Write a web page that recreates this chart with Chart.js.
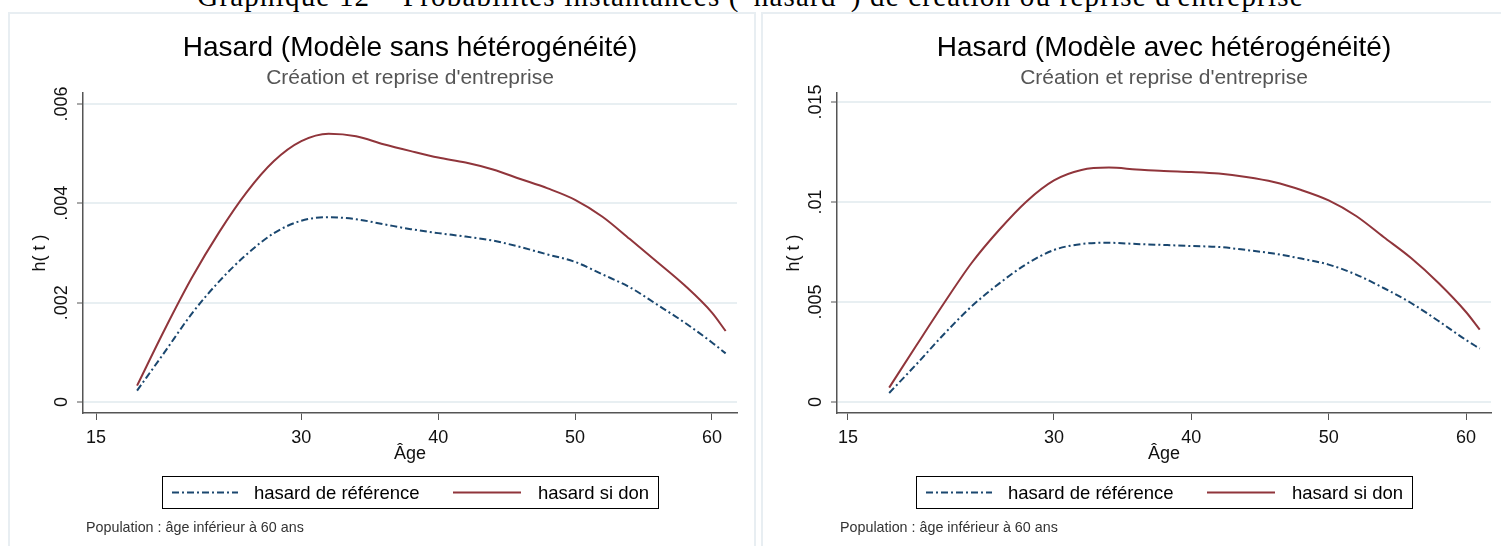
<!DOCTYPE html>
<html>
<head>
<meta charset="utf-8">
<script src="https://cdn.jsdelivr.net/npm/chart.js@4.4.1/dist/chart.umd.min.js"></script>
<style>
  html, body { margin: 0; padding: 0; background: #fff; }
  body { width: 1501px; height: 546px; position: relative; overflow: hidden; }
  #header {
    position: absolute; left: 0; top: -17px; width: 1501px;
    text-align: center; white-space: nowrap;
    font: 29px "Liberation Serif", serif; letter-spacing: 1.2px; line-height: 26px; color: #000;
  }
  .panel {
    position: absolute; top: 12px; height: 560px;
    border: 2px solid #e8eef2; box-sizing: border-box; background: #fff;
  }
  canvas { position: absolute; top: 0; }
</style>
</head>
<body>
<div id="header">Graphique 12 – Probabilités instantanées (“hasard”) de création ou reprise d'entreprise</div>
<div class="panel" style="left:8px; width:748px;"></div>
<div class="panel" style="left:761px; width:760px;"></div>
<canvas id="left" width="755" height="546" style="left:0;"></canvas>
<canvas id="right" width="744" height="546" style="left:757px;"></canvas>

<script>
// Age grid shared by all curves
const ages = [18, 20, 22, 24, 26, 28, 30, 32, 34, 36, 38, 40, 42, 44, 46, 48, 50, 52, 54, 56, 58, 60, 61];

// Model without heterogeneity
const refNoHet = [0.00023, 0.00100, 0.00178, 0.00243, 0.00297, 0.00340, 0.00365, 0.00372, 0.00368, 0.00358, 0.00348, 0.00340,
                  0.00333, 0.00325, 0.00312, 0.00297, 0.00282, 0.00257, 0.00231, 0.00196, 0.00160, 0.00120, 0.00098];
const donNoHet = [0.00033, 0.00145, 0.00250, 0.00342, 0.00422, 0.00485, 0.00525, 0.00540, 0.00535, 0.00519, 0.00505, 0.00492,
                  0.00482, 0.00468, 0.00449, 0.00430, 0.00407, 0.00373, 0.00328, 0.00282, 0.00235, 0.00180, 0.00143];

// Model with heterogeneity
const refHet = [0.00045, 0.00190, 0.00340, 0.00478, 0.00592, 0.00690, 0.00760, 0.00790, 0.00796, 0.00790, 0.00785, 0.00780,
                0.00775, 0.00760, 0.00742, 0.00717, 0.00687, 0.00637, 0.00570, 0.00495, 0.00405, 0.00310, 0.00267];
const donHet = [0.00072, 0.00285, 0.00495, 0.00695, 0.00860, 0.01003, 0.01108, 0.01160, 0.01172, 0.01163, 0.01155, 0.01150,
                0.01142, 0.01125, 0.01100, 0.01060, 0.01008, 0.00930, 0.00825, 0.00720, 0.00595, 0.00450, 0.00362];

// Axis ticks
const xTicks = [15, 30, 40, 50, 60];
const yTicksNoHet = [0, 0.002, 0.004, 0.006];
const yLabelsNoHet = ['0', '.002', '.004', '.006'];
const yTicksHet = [0, 0.005, 0.01, 0.015];
const yLabelsHet = ['0', '.005', '.01', '.015'];

const NAVY = '#1a476f';
const MAROON = '#90353b';
const GRID = '#e8eff2';
const AXIS = '#555';
const FONT = '"Liberation Sans", Arial, sans-serif';

// Titles, tick labels, legend and note drawn around the plot area
const panelText = {
  id: 'panelText',
  afterDraw(chart, args, o) {
    const { ctx, chartArea: a, scales: { x, y } } = chart;
    const cx = (a.left + a.right) / 2;
    ctx.save();
    ctx.textAlign = 'center';
    ctx.textBaseline = 'alphabetic';

    ctx.fillStyle = '#000';
    ctx.font = '28px ' + FONT;
    ctx.fillText(o.title, cx, 56);

    ctx.fillStyle = '#555';
    ctx.font = '21px ' + FONT;
    ctx.fillText(o.subtitle, cx, 84);

    ctx.fillStyle = '#111';
    ctx.font = '18px ' + FONT;
    o.xTicks.forEach(v => ctx.fillText(String(v), x.getPixelForValue(v), 443));
    ctx.fillText(o.xTitle, cx, 459);

    o.yTicks.forEach((v, i) => {
      ctx.save();
      ctx.translate(a.left - 16, y.getPixelForValue(v));
      ctx.rotate(-Math.PI / 2);
      ctx.fillText(o.yLabels[i], 0, 0);
      ctx.restore();
    });
    ctx.save();
    ctx.translate(a.left - 38, (a.top + a.bottom) / 2);
    ctx.rotate(-Math.PI / 2);
    ctx.fillText(o.yTitle, 0, 0);
    ctx.restore();

    // legend box
    const lx = cx - 248, ly = 476, lw = 496, lh = 32;
    ctx.strokeStyle = '#000';
    ctx.lineWidth = 1;
    ctx.strokeRect(Math.round(lx) + 0.5, ly + 0.5, lw, lh);
    const midY = ly + lh / 2 + 0.5;
    const items = [
      { ds: chart.data.datasets[0], x0: cx - 238, x1: cx - 172, tx: cx - 156 },
      { ds: chart.data.datasets[1], x0: cx + 43, x1: cx + 111, tx: cx + 128 }
    ];
    items.forEach(it => {
      ctx.save();
      ctx.strokeStyle = it.ds.borderColor;
      ctx.lineWidth = it.ds.borderWidth;
      ctx.setLineDash(it.ds.borderDash || []);
      ctx.beginPath();
      ctx.moveTo(it.x0, midY);
      ctx.lineTo(it.x1, midY);
      ctx.stroke();
      ctx.restore();
      ctx.fillStyle = '#000';
      ctx.textAlign = 'left';
      ctx.font = '18.5px ' + FONT;
      ctx.fillText(it.ds.label, it.tx, ly + 23);
    });

    ctx.fillStyle = '#333';
    ctx.font = '14.3px ' + FONT;
    ctx.textAlign = 'left';
    ctx.fillText(o.note, a.left + 3, 532);
    ctx.restore();
  }
};

function toPoints(vals) {
  return ages.map((a, i) => ({ x: a, y: vals[i] }));
}

function makeChart(id, cfg) {
  return new Chart(document.getElementById(id), {
    type: 'line',
    data: {
      datasets: [
        {
          label: 'hasard de référence',
          data: toPoints(cfg.ref),
          borderColor: NAVY, borderWidth: 2, borderDash: [7, 3, 2, 3],
          pointRadius: 0, fill: false, cubicInterpolationMode: 'monotone'
        },
        {
          label: 'hasard si don',
          data: toPoints(cfg.don),
          borderColor: MAROON, borderWidth: 2,
          pointRadius: 0, fill: false, cubicInterpolationMode: 'monotone'
        }
      ]
    },
    options: {
      responsive: false,
      animation: false,
      layout: { padding: cfg.padding },
      plugins: {
        legend: { display: false },
        tooltip: { enabled: false },
        panelText: {
          title: cfg.title,
          subtitle: 'Création et reprise d\'entreprise',
          xTitle: 'Âge',
          yTitle: 'h( t )',
          xTicks: xTicks,
          yTicks: cfg.yTicks,
          yLabels: cfg.yLabels,
          note: 'Population : âge inférieur à 60 ans'
        }
      },
      scales: {
        x: {
          type: 'linear',
          min: cfg.xMin, max: cfg.xMax,
          afterBuildTicks: s => { s.ticks = xTicks.map(v => ({ value: v })); },
          ticks: { display: false },
          grid: { drawOnChartArea: false, drawTicks: true, tickLength: 7, tickColor: AXIS, tickWidth: 1 },
          border: { display: true, color: AXIS, width: 1.5 }
        },
        y: {
          type: 'linear',
          min: cfg.yMin, max: cfg.yMax,
          afterBuildTicks: s => { s.ticks = cfg.yTicks.map(v => ({ value: v })); },
          ticks: { display: false },
          grid: { color: GRID, lineWidth: 2, drawTicks: true, tickLength: 6, tickColor: AXIS, tickWidth: 1 },
          border: { display: true, color: AXIS, width: 1.5 }
        }
      }
    },
    plugins: [panelText]
  });
}

makeChart('left', {
  title: 'Hasard (Modèle sans hétérogénéité)',
  ref: refNoHet, don: donNoHet,
  yTicks: yTicksNoHet, yLabels: yLabelsNoHet,
  xMin: 14.05, xMax: 61.83,
  yMin: -0.00022, yMax: 0.00622,
  padding: { left: 77, top: 93, right: 18, bottom: 126 }
});

makeChart('right', {
  title: 'Hasard (Modèle avec hétérogénéité)',
  ref: refHet, don: donHet,
  yTicks: yTicksHet, yLabels: yLabelsHet,
  xMin: 14.2, xMax: 61.82,
  yMin: -0.00055, yMax: 0.01545,
  padding: { left: 74, top: 93, right: 10, bottom: 126 }
});
</script>
</body>
</html>
